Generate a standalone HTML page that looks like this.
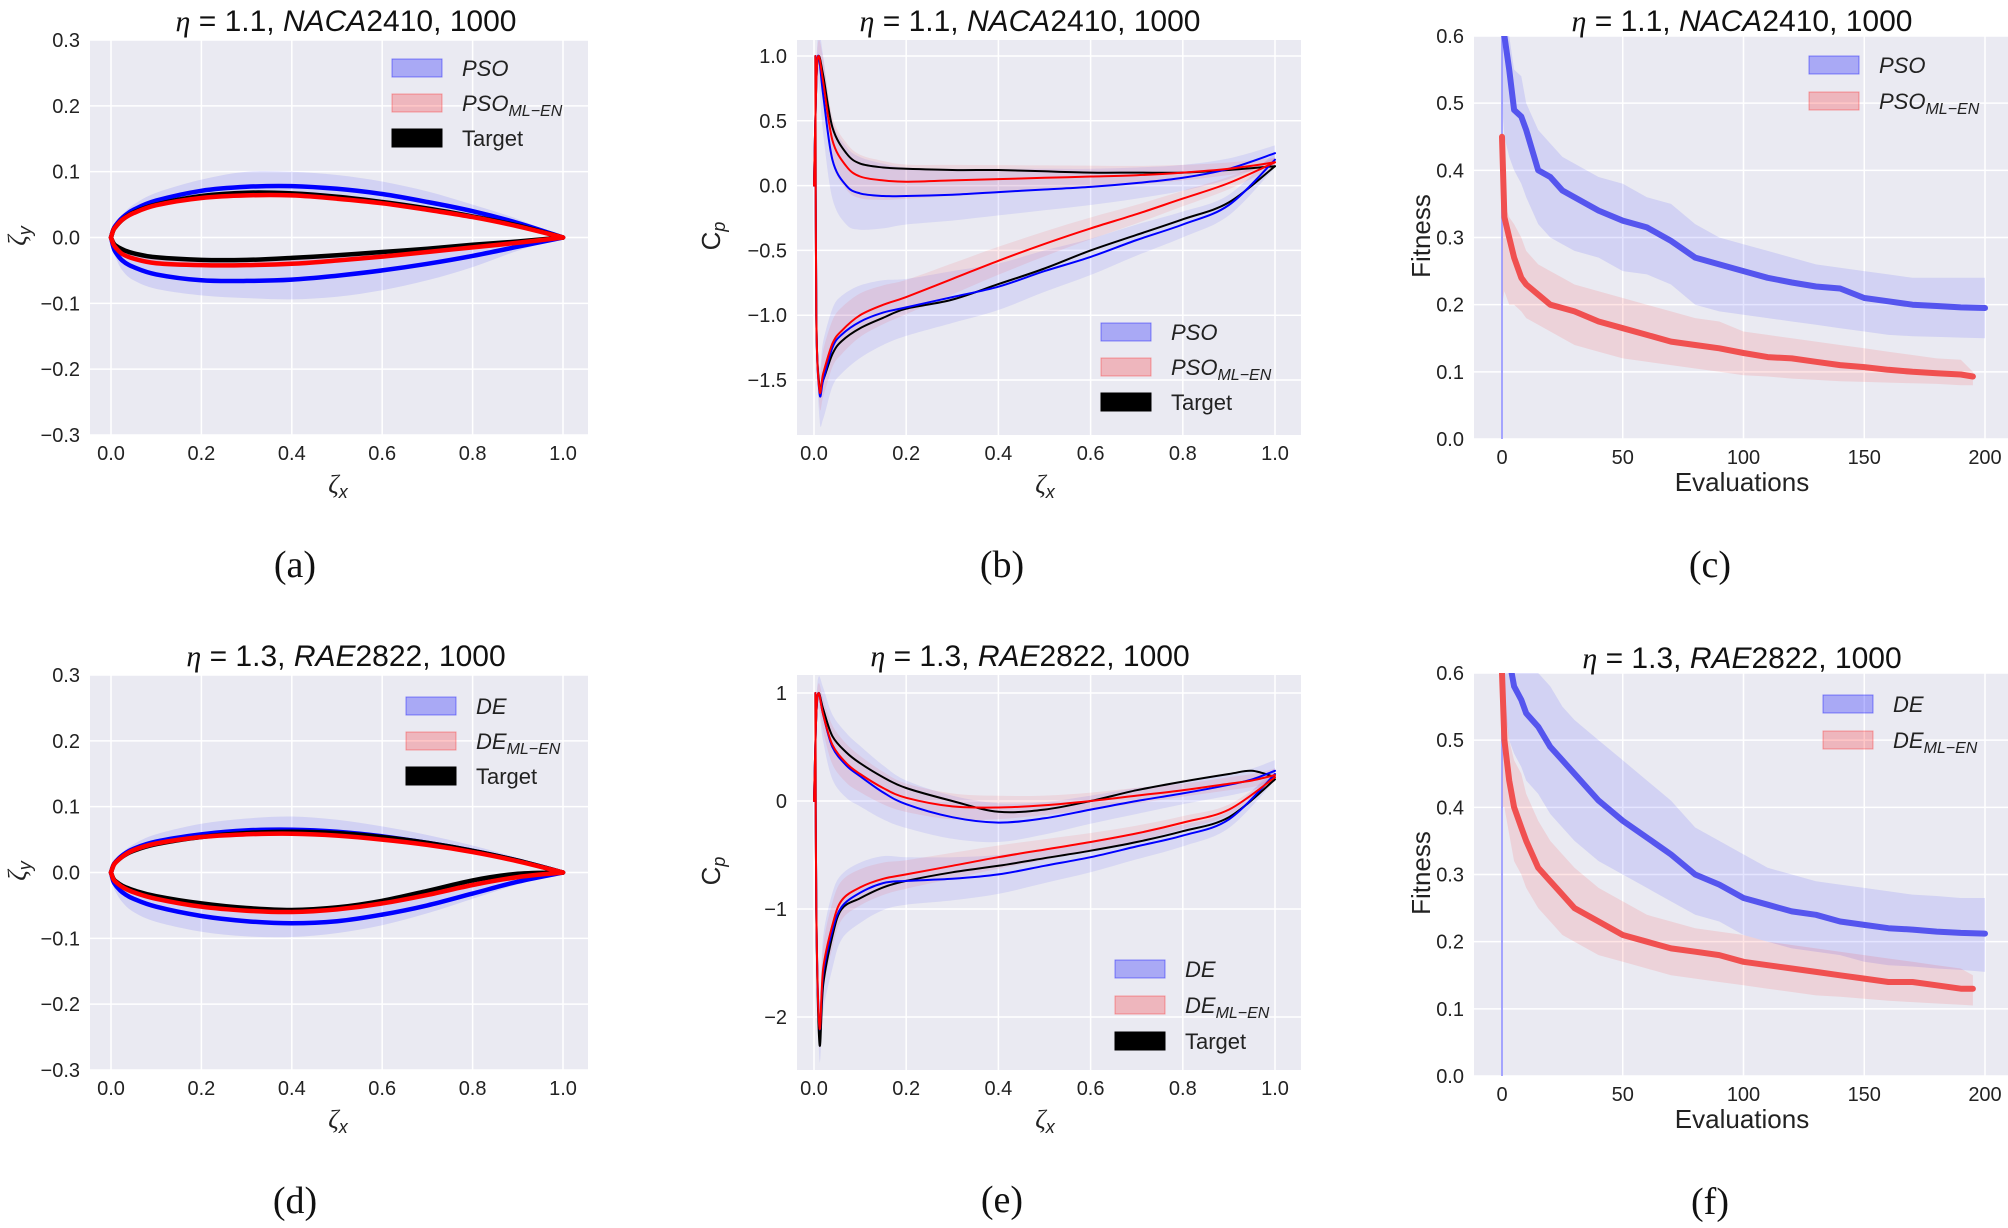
<!DOCTYPE html>
<html><head><meta charset="utf-8">
<style>
body{margin:0;background:#fff;}
svg{display:block;font-family:"Liberation Sans",sans-serif;}
.tk{font-size:20px;fill:#222;}
.ttl{font-size:30px;fill:#111;}
.lg{font-size:22px;fill:#222;}
.cap{font-family:"Liberation Serif",serif;font-size:38px;fill:#111;}
</style></head>
<body>
<svg id="fig" width="2008" height="1228" viewBox="0 0 2008 1228" xmlns="http://www.w3.org/2000/svg"></svg>
<script>
// ---------- DATA ----------
const foilX=[0,0.005,0.01,0.025,0.05,0.1,0.2,0.3,0.4,0.5,0.6,0.7,0.8,0.9,1.0];
// NACA2410 (a)
const aTargetUp=[0,0.011,0.016,0.027,0.038,0.05,0.063,0.068,0.067,0.062,0.054,0.044,0.032,0.018,0];
const aTargetLo=[0,-0.008,-0.012,-0.018,-0.024,-0.03,-0.034,-0.034,-0.031,-0.027,-0.022,-0.017,-0.011,-0.006,0];
const aBlueUp=[0,0.012,0.018,0.03,0.042,0.056,0.071,0.077,0.078,0.074,0.066,0.054,0.04,0.022,0];
const aBlueLo=[0,-0.014,-0.022,-0.035,-0.045,-0.056,-0.065,-0.066,-0.064,-0.058,-0.05,-0.04,-0.028,-0.014,0];
const aRedUp=[0,0.011,0.016,0.027,0.037,0.049,0.06,0.064,0.064,0.059,0.052,0.042,0.031,0.017,0];
const aRedLo=[0,-0.01,-0.015,-0.025,-0.032,-0.039,-0.042,-0.042,-0.04,-0.035,-0.029,-0.022,-0.015,-0.008,0];
const aBlueMax=[0,0.014,0.021,0.035,0.05,0.068,0.088,0.1,0.1,0.095,0.085,0.07,0.05,0.028,0];
const aBlueMin=[0,-0.02,-0.03,-0.05,-0.065,-0.078,-0.088,-0.092,-0.094,-0.09,-0.08,-0.065,-0.045,-0.02,0];
// RAE2822 (d)
const dTargetUp=[0,0.01,0.015,0.024,0.033,0.043,0.054,0.06,0.062,0.06,0.054,0.045,0.033,0.018,0];
const dTargetLo=[0,-0.009,-0.013,-0.02,-0.027,-0.036,-0.047,-0.054,-0.057,-0.053,-0.043,-0.028,-0.012,-0.002,0];
const dBlueUp=[0,0.011,0.016,0.026,0.036,0.047,0.058,0.064,0.065,0.062,0.055,0.045,0.033,0.018,0];
const dBlueLo=[0,-0.013,-0.019,-0.03,-0.04,-0.052,-0.066,-0.074,-0.077,-0.074,-0.064,-0.05,-0.032,-0.014,0];
const dRedUp=[0,0.01,0.015,0.024,0.034,0.044,0.054,0.058,0.059,0.056,0.05,0.042,0.031,0.017,0];
const dRedLo=[0,-0.01,-0.014,-0.022,-0.03,-0.04,-0.052,-0.058,-0.06,-0.056,-0.047,-0.034,-0.019,-0.007,0];
const dBlueMax=[0,0.013,0.019,0.03,0.043,0.058,0.074,0.082,0.085,0.08,0.07,0.057,0.041,0.022,0];
const dBlueMin=[0,-0.02,-0.029,-0.045,-0.06,-0.075,-0.09,-0.097,-0.098,-0.092,-0.08,-0.062,-0.04,-0.018,0];
// Cp (b)
const cpX1=[0,0.005,0.01,0.02,0.04,0.07,0.1,0.15,0.2,0.3,0.4,0.5,0.6,0.7,0.8,0.9,1.0];
const bTarget1=[0,0.8,1.0,0.85,0.45,0.25,0.17,0.14,0.13,0.12,0.12,0.11,0.1,0.1,0.1,0.12,0.15];
const bBlue1=[0,0.8,1.0,0.7,0.2,0.0,-0.06,-0.08,-0.08,-0.07,-0.05,-0.03,-0.01,0.02,0.06,0.13,0.25];
const bRed1=[0,0.8,1.0,0.8,0.35,0.15,0.07,0.04,0.03,0.04,0.05,0.06,0.07,0.08,0.1,0.13,0.18];
const cpX2=[0.003,0.005,0.012,0.02,0.04,0.06,0.1,0.15,0.2,0.3,0.4,0.5,0.6,0.7,0.8,0.9,1.0];
const bTarget2=[1.0,-1.0,-1.55,-1.5,-1.3,-1.2,-1.1,-1.02,-0.95,-0.88,-0.76,-0.64,-0.5,-0.38,-0.26,-0.13,0.15];
const bBlue2=[1.0,-1.0,-1.6,-1.5,-1.25,-1.15,-1.05,-0.98,-0.94,-0.86,-0.78,-0.66,-0.55,-0.42,-0.3,-0.15,0.2];
const bRed2=[1.0,-1.0,-1.58,-1.45,-1.22,-1.12,-1.0,-0.92,-0.86,-0.72,-0.58,-0.45,-0.33,-0.22,-0.1,0.02,0.18];
const bSpread=[0.05,0.1,0.2,0.3,0.3,0.3,0.28,0.25,0.22,0.2,0.18,0.16,0.14,0.12,0.1,0.08,0.06];
// Cp (e)
const cpX1e=[0,0.005,0.01,0.02,0.04,0.07,0.1,0.15,0.2,0.3,0.4,0.5,0.6,0.7,0.8,0.9,0.95,1.0];
const eTarget1=[0,0.8,1.0,0.85,0.6,0.45,0.35,0.22,0.12,0.0,-0.1,-0.08,0.0,0.1,0.18,0.25,0.28,0.22];
const eBlue1=[0,0.8,1.0,0.8,0.5,0.33,0.23,0.08,-0.03,-0.15,-0.2,-0.16,-0.08,0.0,0.07,0.15,0.2,0.28];
const eRed1=[0,0.8,1.0,0.8,0.52,0.35,0.25,0.12,0.03,-0.05,-0.06,-0.04,0.0,0.05,0.1,0.16,0.19,0.24];
const eSpread1=[0.05,0.1,0.15,0.25,0.3,0.3,0.28,0.25,0.22,0.2,0.18,0.15,0.13,0.12,0.1,0.1,0.1,0.1];
const eTarget2=[1.0,-1.0,-2.25,-1.7,-1.25,-1.0,-0.9,-0.8,-0.74,-0.66,-0.6,-0.53,-0.46,-0.38,-0.28,-0.15,0.2];
const eBlue2=[1.0,-1.0,-2.1,-1.6,-1.2,-0.98,-0.85,-0.76,-0.74,-0.72,-0.68,-0.6,-0.52,-0.42,-0.32,-0.17,0.25];
const eRed2=[1.0,-1.0,-2.1,-1.55,-1.15,-0.92,-0.8,-0.72,-0.68,-0.6,-0.52,-0.45,-0.38,-0.3,-0.2,-0.08,0.22];
const eSpread2=[0.05,0.2,0.3,0.35,0.35,0.3,0.28,0.25,0.22,0.2,0.18,0.16,0.14,0.12,0.1,0.08,0.06];
// Fitness (c)
const evalX=[0,1,3,5,8,10,15,20,25,30,40,50,60,70,80,90,100,110,120,130,140,150,160,170,180,190,200];
const cBlue=[0.75,0.6,0.55,0.49,0.48,0.46,0.4,0.39,0.37,0.36,0.34,0.325,0.315,0.295,0.27,0.26,0.25,0.24,0.233,0.227,0.224,0.21,0.205,0.2,0.198,0.196,0.195];
const cBlueLo=[0.5,0.45,0.42,0.4,0.38,0.36,0.32,0.3,0.29,0.28,0.27,0.25,0.245,0.23,0.2,0.19,0.185,0.18,0.175,0.17,0.165,0.16,0.155,0.153,0.152,0.151,0.15];
const cBlueHi=[0.6,0.6,0.6,0.55,0.54,0.5,0.46,0.44,0.42,0.41,0.39,0.38,0.36,0.35,0.32,0.3,0.29,0.28,0.27,0.26,0.255,0.25,0.245,0.24,0.24,0.24,0.24];
const evalXr=[0,1,3,5,8,10,15,20,25,30,40,50,60,70,80,90,100,110,120,130,140,150,160,170,180,190,195];
const cRed=[0.45,0.33,0.3,0.27,0.24,0.23,0.215,0.2,0.195,0.19,0.175,0.165,0.155,0.145,0.14,0.135,0.128,0.122,0.12,0.115,0.11,0.107,0.103,0.1,0.098,0.096,0.093];
const cRedLo=[0.2,0.22,0.2,0.2,0.19,0.18,0.17,0.16,0.15,0.14,0.13,0.12,0.115,0.11,0.105,0.1,0.095,0.093,0.09,0.088,0.086,0.085,0.084,0.083,0.082,0.08,0.08];
const cRedHi=[0.45,0.35,0.33,0.32,0.3,0.28,0.26,0.25,0.24,0.23,0.22,0.21,0.2,0.19,0.18,0.175,0.16,0.155,0.15,0.145,0.14,0.135,0.13,0.125,0.12,0.118,0.1];
// Fitness (f)
const fBlue=[0.75,0.68,0.62,0.58,0.56,0.54,0.52,0.49,0.47,0.45,0.41,0.38,0.355,0.33,0.3,0.285,0.265,0.255,0.245,0.24,0.23,0.225,0.22,0.218,0.215,0.213,0.212];
const fBlueLo=[0.5,0.55,0.5,0.48,0.46,0.44,0.42,0.39,0.37,0.35,0.32,0.3,0.28,0.26,0.24,0.23,0.21,0.2,0.19,0.185,0.18,0.17,0.165,0.163,0.16,0.158,0.155];
const fBlueHi=[0.6,0.6,0.6,0.6,0.6,0.6,0.6,0.58,0.55,0.53,0.5,0.47,0.44,0.41,0.37,0.35,0.33,0.31,0.3,0.29,0.285,0.28,0.275,0.27,0.268,0.265,0.265];
const fRed=[0.6,0.5,0.44,0.4,0.37,0.35,0.31,0.29,0.27,0.25,0.23,0.21,0.2,0.19,0.185,0.18,0.17,0.165,0.16,0.155,0.15,0.145,0.14,0.14,0.135,0.13,0.13];
const fRedLo=[0.4,0.4,0.36,0.32,0.3,0.28,0.25,0.23,0.21,0.2,0.18,0.17,0.16,0.15,0.145,0.14,0.135,0.13,0.125,0.12,0.118,0.115,0.112,0.11,0.108,0.106,0.105];
const fRedHi=[0.6,0.58,0.5,0.47,0.45,0.42,0.38,0.35,0.33,0.31,0.28,0.26,0.24,0.23,0.22,0.215,0.21,0.2,0.195,0.19,0.185,0.18,0.175,0.17,0.165,0.16,0.15];

// ---------- helpers ----------
const NS="http://www.w3.org/2000/svg";
const svg=document.getElementById('fig');
function mk(tag,attrs,parent){const e=document.createElementNS(NS,tag);for(const k in attrs)e.setAttribute(k,attrs[k]);(parent||svg).appendChild(e);return e;}
function scale(d0,d1,r0,r1){return v=>r0+(v-d0)*(r1-r0)/(d1-d0);}
function smoothPath(pts,start){
  let d=(start||'M')+pts[0][0].toFixed(1)+','+pts[0][1].toFixed(1);
  for(let i=0;i<pts.length-1;i++){
    const p0=pts[i>0?i-1:i],p1=pts[i],p2=pts[i+1],p3=pts[i+2<pts.length?i+2:i+1];
    const c1=[p1[0]+(p2[0]-p0[0])/6,p1[1]+(p2[1]-p0[1])/6];
    const c2=[p2[0]-(p3[0]-p1[0])/6,p2[1]-(p3[1]-p1[1])/6];
    d+='C'+c1[0].toFixed(1)+','+c1[1].toFixed(1)+' '+c2[0].toFixed(1)+','+c2[1].toFixed(1)+' '+p2[0].toFixed(1)+','+p2[1].toFixed(1);
  }
  return d;
}
let clipN=0;
function panel(p){
  const g=mk('g',{});
  
  
  const sx=scale(p.xd[0],p.xd[1],p.xr[0],p.xr[1]);
  const sy=scale(p.yd[0],p.yd[1],p.yr[0],p.yr[1]);
  const bg=mk('rect',{x:p.L,y:p.T,width:p.R-p.L,height:p.B-p.T,fill:'#eaeaf2'},g);
  
  
  p.xt.forEach((t,i)=>{const x=sx(t);mk('line',{x1:x,x2:x,y1:p.T,y2:p.B,stroke:'#fff','stroke-width':1.5},g);
    const tx=mk('text',{x:x,y:p.B+25,'text-anchor':'middle',class:'tk'},g);tx.textContent=p.xl[i];
    });
  p.yt.forEach((t,i)=>{const y=sy(t);mk('line',{x1:p.L,x2:p.R,y1:y,y2:y,stroke:'#fff','stroke-width':1.5},g);
    const tx=mk('text',{x:p.L-10,y:y+7,'text-anchor':'end',class:'tk'},g);tx.textContent=p.yl[i];
    });
  const id='c'+(clipN++);
  const cp=mk('clipPath',{id:id},g);mk('rect',{x:p.L,y:p.T,width:p.R-p.L,height:p.B-p.T},cp);
  const cg=mk('g',{'clip-path':'url(#'+id+')'},g);
  return {g,cg,sx,sy};
}
function line(P,xs,ys,color,w,name,op,smooth){
  const pts=xs.map((x,i)=>[P.sx(x),P.sy(ys[i])]);
  const d=smooth?smoothPath(pts):pts.map((p,i)=>(i?'L':'M')+p[0].toFixed(1)+','+p[1].toFixed(1)).join('');
  const e=mk('path',{d:d,fill:'none',stroke:color,'stroke-width':w,'stroke-linejoin':'round','stroke-linecap':'round','opacity':op||1},P.cg);
  
}
function band(P,xs,lo,hi,color,op,name,smooth){
  const top=xs.map((x,i)=>[P.sx(x),P.sy(hi[i])]);
  const bot=xs.map((x,i)=>[P.sx(x),P.sy(lo[i])]).reverse();
  let d;
  if(smooth){d=smoothPath(top)+smoothPath(bot,'L')+'Z';}
  else{d=top.concat(bot).map((p,i)=>(i?'L':'M')+p[0].toFixed(1)+','+p[1].toFixed(1)).join('')+'Z';}
  const e=mk('path',{d:d,fill:color,'fill-opacity':op,stroke:'none'},P.cg);
  
}
function spreadBand(P,xs,ys,sp,color,op,name){
  band(P,xs,ys.map((v,i)=>v-sp[i]),ys.map((v,i)=>v+sp[i]),color,op,name,true);
}
function title(x,y,parts){
  const t=mk('text',{x:x,y:y,'text-anchor':'middle',class:'ttl'});
  
  t.innerHTML='<tspan font-family="Liberation Serif" font-style="italic">η</tspan> = '+parts[0]+', <tspan font-style="italic">'+parts[1]+'</tspan>'+parts[2]+', 1000';
}
function txt(x,y,html,cls,name,extra){
  const t=mk('text',Object.assign({x:x,y:y,'text-anchor':'middle',class:cls},extra||{}));
  t.innerHTML=html;return t;
}
function legend(x,y,items,dy){
  items.forEach((it,i)=>{
    const yy=y+i*dy;
    const r=mk('rect',{x:x,y:yy,width:50,height:18,fill:it[1],'fill-opacity':it[2],stroke:it[1],'stroke-opacity':it[2]*1.5});
    
    const t=mk('text',{x:x+70,y:yy+17,class:'lg'});
    
    t.innerHTML=it[0];
  });
}
const sub=(a,b)=>'<tspan font-style="italic">'+a+'</tspan><tspan font-style="italic" font-size="16" dy="5">'+b+'</tspan>';

function foil(name,T,tit,data,leg,capX,capY,cap){
  const P=panel({name:name,L:90,R:588,T:T,B:T+395,xd:[0,1],xr:[111,563],yd:[0.3,-0.3],yr:[T,T+395],
    xt:[0,0.2,0.4,0.6,0.8,1.0],xl:['0.0','0.2','0.4','0.6','0.8','1.0'],
    yt:[0.3,0.2,0.1,0,-0.1,-0.2,-0.3],yl:['0.3','0.2','0.1','0.0','−0.1','−0.2','−0.3']});
  band(P,foilX,data.tUp,data.bMax,'#0000ff',0.1,'blue-spread-band-upper',true);
  band(P,foilX,data.bMin,data.tLo,'#0000ff',0.1,'blue-spread-band-lower',true);
  band(P,foilX,data.rLo,data.tLo,'#ff0000',0.12,'red-spread-band-lower',true);
  band(P,foilX,data.rUp,data.tUp,'#ff0000',0.12,'red-spread-band-upper',true);
  line(P,foilX,data.bUp,'#0000ff',4.5,'blue-upper-surface',1,true);
  line(P,foilX,data.bLo,'#0000ff',4.5,'blue-lower-surface',1,true);
  line(P,foilX,data.tUp,'#000',4.5,'target-upper-surface',1,true);
  line(P,foilX,data.tLo,'#000',4.5,'target-lower-surface',1,true);
  line(P,foilX,data.rUp,'#ff0000',4.5,'red-upper-surface',1,true);
  line(P,foilX,data.rLo,'#ff0000',4.5,'red-lower-surface',1,true);
  title(346,T-9,tit);
  txt(338,T+453,'<tspan font-family="Liberation Serif" font-style="italic">ζ</tspan><tspan font-style="italic" font-size="18" dy="5">x</tspan>','lg','x-axis-title',{style:'font-size:26px'});
  txt(26,T+196,'<tspan font-family="Liberation Serif" font-style="italic">ζ</tspan><tspan font-style="italic" font-size="18" dy="5">y</tspan>','lg','y-axis-title',{style:'font-size:26px',transform:'rotate(-90 26 '+(T+196)+')'});
  legend(leg[0],leg[1],leg[2],35);
  txt(capX,capY,cap,'cap','subfigure-caption');
}
function cp(name,T,tit,opt){
  const P=panel({name:name,L:797,R:1301,T:T,B:T+395,xd:[0,1],xr:[814,1275],yd:opt.yd,yr:opt.yr,
    xt:[0,0.2,0.4,0.6,0.8,1.0],xl:['0.0','0.2','0.4','0.6','0.8','1.0'],yt:opt.yt,yl:opt.yl});
  spreadBand(P,opt.x1,opt.b1,opt.s1,'#0000ff',0.08,'blue-band-upper');
  spreadBand(P,opt.x2,opt.b2,opt.s2,'#0000ff',0.08,'blue-band-lower');
  spreadBand(P,opt.x1,opt.r1,opt.s1.map(v=>v*0.6),'#ff0000',0.08,'red-band-upper');
  spreadBand(P,opt.x2,opt.r2,opt.s2.map(v=>v*0.6),'#ff0000',0.08,'red-band-lower');
  line(P,opt.x1,opt.t1,'#000',2,'target-cp-upper',1,true);
  line(P,opt.x2,opt.t2,'#000',2,'target-cp-lower',1,true);
  line(P,opt.x1,opt.b1,'#0000ff',2,'blue-cp-upper',1,true);
  line(P,opt.x2,opt.b2,'#0000ff',2,'blue-cp-lower',1,true);
  line(P,opt.x1,opt.r1,'#ff0000',2,'red-cp-upper',1,true);
  line(P,opt.x2,opt.r2,'#ff0000',2,'red-cp-lower',1,true);
  title(1030,T-9,tit);
  txt(1045,T+453,'<tspan font-family="Liberation Serif" font-style="italic">ζ</tspan><tspan font-style="italic" font-size="18" dy="5">x</tspan>','lg','x-axis-title',{style:'font-size:26px'});
  txt(720,T+196,'C<tspan font-style="italic" font-size="18" dy="5">p</tspan>','lg','y-axis-title',{style:'font-size:26px',transform:'rotate(-90 720 '+(T+196)+')'});
  legend(opt.leg[0],opt.leg[1],opt.leg[2],opt.leg[3]);
  txt(1002,T+537,opt.cap,'cap','subfigure-caption');
}
function fit(name,T,tit,opt){
  const P=panel({name:name,L:1474,R:2008,T:T,B:T+403,xd:[0,200],xr:[1502,1985],yd:[0.6,0],yr:[T,T+403],
    xt:[0,50,100,150,200],xl:['0','50','100','150','200'],yt:[0,0.1,0.2,0.3,0.4,0.5,0.6],yl:['0.0','0.1','0.2','0.3','0.4','0.5','0.6']});
  band(P,evalX,opt.blo,opt.bhi,'#0000ff',0.1,'blue-std-band');
  band(P,evalXr,opt.rlo,opt.rhi,'#ff0000',0.1,'red-std-band');
  line(P,[0,0],[0,0.6],'#8080ff',2,'initial-spike',0.7);
  line(P,evalX,opt.b,'#5555ee',6,'blue-mean-fitness');
  line(P,evalXr,opt.r,'#f05050',6,'red-mean-fitness');
  title(1742,T-5,tit);
  txt(1742,T+455,'Evaluations','lg','x-axis-title',{style:'font-size:26px'});
  txt(1430,T+200,'Fitness','lg','y-axis-title',{style:'font-size:26px',transform:'rotate(-90 1430 '+(T+200)+')'});
  legend(opt.leg[0],opt.leg[1],opt.leg[2],36);
  txt(1710,T+541,opt.cap,'cap','subfigure-caption');
}

// ---------- draw ----------
foil('airfoil-panel-a',40,['1.1','NACA','2410'],
  {tUp:aTargetUp,tLo:aTargetLo,bUp:aBlueUp,bLo:aBlueLo,rUp:aRedUp,rLo:aRedLo,bMax:aBlueMax,bMin:aBlueMin},
  [392,59,[['<tspan font-style="italic">PSO</tspan>','#0000ff',0.28],[sub('PSO','ML−EN'),'#ff0000',0.22],['Target','#000',1]]],295,577,'(a)');
foil('airfoil-panel-d',675,['1.3','RAE','2822'],
  {tUp:dTargetUp,tLo:dTargetLo,bUp:dBlueUp,bLo:dBlueLo,rUp:dRedUp,rLo:dRedLo,bMax:dBlueMax,bMin:dBlueMin},
  [406,697,[['<tspan font-style="italic">DE</tspan>','#0000ff',0.28],[sub('DE','ML−EN'),'#ff0000',0.22],['Target','#000',1]]],295,1213,'(d)');
cp('cp-panel-b',40,['1.1','NACA','2410'],{yd:[1,-1.5],yr:[56,380],yt:[1,0.5,0,-0.5,-1,-1.5],yl:['1.0','0.5','0.0','−0.5','−1.0','−1.5'],
  x1:cpX1,x2:cpX2,t1:bTarget1,b1:bBlue1,r1:bRed1,t2:bTarget2,b2:bBlue2,r2:bRed2,s1:bSpread,s2:bSpread,
  leg:[1101,323,[['<tspan font-style="italic">PSO</tspan>','#0000ff',0.28],[sub('PSO','ML−EN'),'#ff0000',0.22],['Target','#000',1]],35],cap:'(b)'});
cp('cp-panel-e',675,['1.3','RAE','2822'],{yd:[1,-2],yr:[693,1017],yt:[1,0,-1,-2],yl:['1','0','−1','−2'],
  x1:cpX1e,x2:cpX2,t1:eTarget1,b1:eBlue1,r1:eRed1,t2:eTarget2,b2:eBlue2,r2:eRed2,s1:eSpread1,s2:eSpread2,
  leg:[1115,960,[['<tspan font-style="italic">DE</tspan>','#0000ff',0.28],[sub('DE','ML−EN'),'#ff0000',0.22],['Target','#000',1]],36],cap:'(e)'});
fit('fitness-panel-c',36,['1.1','NACA','2410'],{b:cBlue,blo:cBlueLo,bhi:cBlueHi,r:cRed,rlo:cRedLo,rhi:cRedHi,
  leg:[1809,56,[['<tspan font-style="italic">PSO</tspan>','#0000ff',0.28],[sub('PSO','ML−EN'),'#ff0000',0.22]]],cap:'(c)'});
fit('fitness-panel-f',673,['1.3','RAE','2822'],{b:fBlue,blo:fBlueLo,bhi:fBlueHi,r:fRed,rlo:fRedLo,rhi:fRedHi,
  leg:[1823,695,[['<tspan font-style="italic">DE</tspan>','#0000ff',0.28],[sub('DE','ML−EN'),'#ff0000',0.22]]],cap:'(f)'});
</script>
</body></html>
